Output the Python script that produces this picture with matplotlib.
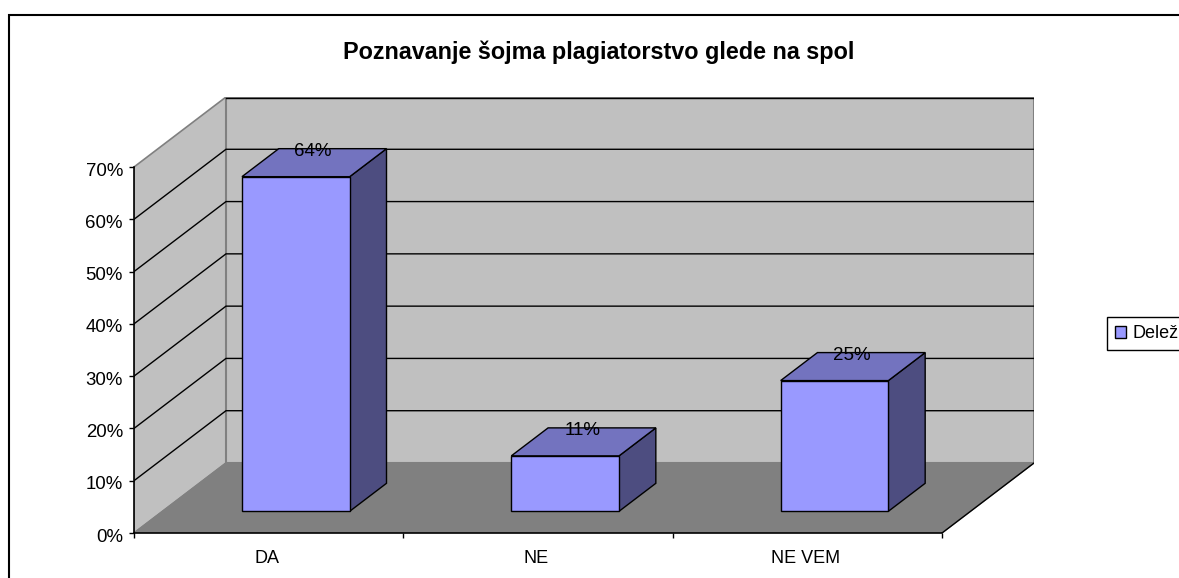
import matplotlib
matplotlib.use("Agg")
from matplotlib import pyplot as plt
from matplotlib.patches import Polygon, Rectangle, Patch
from matplotlib.transforms import ScaledTranslation

W, H = 1179, 578
categories = ["DA", "NE", "NE VEM"]
values = [0.64, 0.106, 0.25]
series_name = "Delež"
title = "Poznavanje šojma plagiatorstvo glede na spol"
y_ticks = [0, 0.1, 0.2, 0.3, 0.4, 0.5, 0.6, 0.7]

WALL = "#C0C0C0"
FLOOR = "#808080"
BAR = "#9999FF"
BAR_TOP = "#7373BF"
BAR_SIDE = "#4D4D80"

plt.rcParams["font.family"] = ["Liberation Sans", "DejaVu Sans"]

# front plane of the chart in pixels, depth offset of the box
X0, X1, Y0, Y1 = 134, 942, 533, 167
DX, DY = 92, 70
YMAX = y_ticks[-1]
XMAX = len(categories)
x_per_px = XMAX / (X1 - X0)
y_per_px = YMAX / (Y0 - Y1)
depth_x = DX * x_per_px
depth_y = DY * y_per_px


def proj(x, v, z):
    # oblique projection: z=0 is the front plane, z=1 the back wall
    return (x + z * depth_x, v + z * depth_y)


fig = plt.figure(figsize=(W / 100, H / 100), dpi=100)
ax = fig.add_axes([X0 / W, 1 - Y0 / H, (X1 + DX - X0) / W, (Y0 - Y1 + DY) / H])
ax.set_xlim(0, XMAX + depth_x)
ax.set_ylim(0, YMAX + depth_y)
ax.patch.set_visible(False)

# outer frame, runs off the picture on the right and the bottom
fig.add_artist(Rectangle((9 / W, -0.05), 1.1, 1 - 15 / H + 0.05, transform=fig.transFigure,
                         fill=False, ec="black", lw=1.5))

# walls and floor
ax.add_patch(Polygon([proj(0, 0, 0), proj(0, YMAX, 0), proj(0, YMAX, 1), proj(0, 0, 1)],
                     fc=WALL, ec=FLOOR, lw=1.2, zorder=1))
ax.add_patch(Polygon([proj(0, 0, 1), proj(0, YMAX, 1), proj(XMAX, YMAX, 1), proj(XMAX, 0, 1)],
                     fc=WALL, ec=FLOOR, lw=1.5, zorder=1))
ax.add_patch(Polygon([proj(0, 0, 0), proj(0, 0, 1), proj(XMAX, 0, 1), proj(XMAX, 0, 0)],
                     fc=FLOOR, ec=FLOOR, lw=1, zorder=1.1))
line_x, line_y = zip(proj(XMAX, 0, 0), proj(XMAX, 0, 1))
ax.plot(line_x, line_y, color="black", lw=1, zorder=1.2)

# gridlines on side wall and back wall
for t in y_ticks[1:]:
    pts = [proj(0, t, 0), proj(0, t, 1), proj(XMAX, t, 1)]
    if t == YMAX:
        pts = pts[1:]
        pts = [(pts[0][0], pts[0][1] - 0.001), (pts[1][0], pts[1][1] - 0.001)]
    ax.plot([p[0] for p in pts], [p[1] for p in pts], color="black", lw=1, zorder=1.5,
            solid_joinstyle="miter")

# bars
left, width = 0.295, 0.4
z0, z1 = 0.31, 0.71
label_shift = ScaledTranslation(-1 / 100, -3 / 100, fig.dpi_scale_trans)
for i, v in enumerate(values):
    a = i + left
    b = a + width
    ax.add_patch(Polygon([proj(b, 0, z0), proj(b, 0, z1), proj(b, v, z1), proj(b, v, z0)],
                         fc=BAR_SIDE, ec="black", lw=1, zorder=3))
    ax.add_patch(Polygon([proj(a, v, z0), proj(a, v, z1), proj(b, v, z1), proj(b, v, z0)],
                         fc=BAR_TOP, ec="black", lw=1, zorder=3))
    ax.add_patch(Polygon([proj(a, 0, z0), proj(a, v, z0), proj(b, v, z0), proj(b, 0, z0)],
                         fc=BAR, ec="black", lw=1, zorder=3.1))
    lx = proj((a + b) / 2, v, (z0 + z1) / 2)[0]
    ly = proj((a + b) / 2, v, z1)[1]
    ax.text(lx, ly, f"{v:.0%}", ha="center", va="center", fontsize=13.5, color="black", zorder=4,
            transform=ax.transData + label_shift)

# axes
for side in ["top", "right"]:
    ax.spines[side].set_visible(False)
ax.spines["left"].set_bounds(0, YMAX)
ax.spines["bottom"].set_bounds(0, XMAX)
ax.spines["left"].set_linewidth(1.2)
ax.spines["bottom"].set_linewidth(1.2)
ax.spines["left"].set_zorder(5)
ax.spines["bottom"].set_zorder(5)
ax.set_yticks(y_ticks)
ax.set_yticklabels([f"{t:.0%}" for t in y_ticks], fontsize=13.4)
ax.set_xticks(range(XMAX + 1))
ax.set_xticklabels([])
ax.set_xticks([i + 0.5 for i in range(XMAX)], minor=True)
ax.set_xticklabels(categories, minor=True, fontsize=13)
ax.tick_params(axis="y", length=3.5, width=1, pad=4.5)
ax.tick_params(axis="x", which="major", length=3.5, width=1)
ax.tick_params(axis="x", which="minor", length=0, pad=12)
# tick labels sit a little below their ticks in the reference
down = ScaledTranslation(0, -2 / 100, fig.dpi_scale_trans)
for lab in ax.get_yticklabels():
    lab.set_transform(lab.get_transform() + down)
for lab in ax.get_xticklabels(minor=True):
    lab.set_transform(lab.get_transform() + ScaledTranslation(-1.5 / 100, 0, fig.dpi_scale_trans))

fig.text(598.5 / W, 1 - 52 / H, title, ha="center", va="center", fontsize=16.85, fontweight="bold")

fig.legend(handles=[Patch(fc=BAR, ec="black", lw=1, label=series_name)], loc="upper left",
           bbox_to_anchor=(1107 / W, 1 - 317 / H), bbox_transform=fig.transFigure,
           fontsize=13, fancybox=False, framealpha=1, edgecolor="black", borderaxespad=0,
           handlelength=0.62, handleheight=0.62, handletextpad=0.35, borderpad=0.45)

fig.savefig("out.png", dpi=100)
